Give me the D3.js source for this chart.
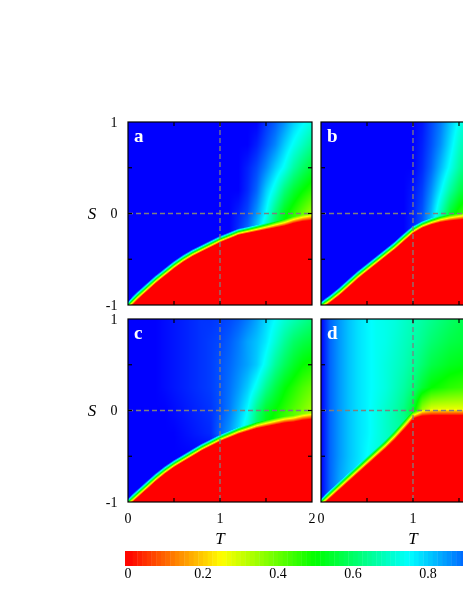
<!DOCTYPE html>
<html>
<head>
<meta charset="utf-8">
<script src="https://cdn.jsdelivr.net/npm/d3@7"></script>
<style>
  body { margin: 0; background: #fff; }
  #wrap { position: relative; width: 463px; height: 599px; overflow: hidden; }
  #wrap canvas, #wrap svg { position: absolute; left: 0; top: 0; }
</style>
</head>
<body>
<div id="wrap"></div>
<script>
// grid the values were read on
const tCols = [0, 0.1, 0.2, 0.3, 0.4, 0.5, 0.6, 0.7, 0.8, 0.9, 1, 1.1, 1.2, 1.3, 1.4, 1.5, 1.6, 1.7, 1.8, 1.9, 2];
const sRows = [1, 0.75, 0.5, 0.25, 0, -0.25, -0.5, -0.75, -1];

// S of the red / blue border at each T
const boundaryA = [-1, -0.9, -0.81, -0.72, -0.64, -0.56, -0.49, -0.43, -0.38, -0.33, -0.28, -0.24, -0.2, -0.18, -0.16, -0.14, -0.12, -0.1, -0.07, -0.05, -0.04];
const boundaryB = [-1, -0.93, -0.85, -0.76, -0.67, -0.59, -0.51, -0.43, -0.35, -0.26, -0.175, -0.12, -0.085, -0.06, -0.045, -0.035, -0.025, -0.02, -0.02, -0.02, -0.02];
const boundaryC = [-1, -0.91, -0.82, -0.73, -0.65, -0.58, -0.52, -0.46, -0.4, -0.35, -0.3, -0.26, -0.22, -0.19, -0.16, -0.14, -0.12, -0.1, -0.09, -0.07, -0.06];
const boundaryD = [-1, -0.91, -0.82, -0.73, -0.64, -0.55, -0.46, -0.37, -0.27, -0.16, -0.05, -0.025, -0.02, -0.02, -0.02, -0.02, -0.02, -0.02, -0.02, -0.02, -0.02];

// values above the border (rows follow sRows, columns follow tCols)
const fieldA = [
  [1, 1, 1, 1, 1, 1, 1, 1, 1, 1, 1, 1, 1, 1, 1, 0.95, 0.91, 0.86, 0.8, 0.76, 0.72],
  [1, 1, 1, 1, 1, 1, 1, 1, 1, 1, 1, 1, 1, 1, 0.97, 0.92, 0.87, 0.8, 0.74, 0.69, 0.64],
  [1, 1, 1, 1, 1, 1, 1, 1, 1, 1, 1, 1, 1, 0.97, 0.93, 0.87, 0.8, 0.74, 0.66, 0.6, 0.55],
  [1, 1, 1, 1, 1, 1, 1, 1, 1, 1, 1, 1, 1, 0.96, 0.9, 0.8, 0.72, 0.62, 0.55, 0.5, 0.46],
  [1, 1, 1, 1, 1, 1, 1, 1, 1, 1, 1, 1, 0.97, 0.93, 0.85, 0.75, 0.62, 0.52, 0.46, 0.4, 0.34],
  [1, 1, 1, 1, 1, 1, 1, 1, 1, 1, 1, 1, 0.95, 0.88, 0.78, 0.66, 0.55, 0.47, 0.42, 0.37, 0.32],
  [1, 1, 1, 1, 1, 1, 1, 1, 1, 1, 1, 1, 1, 1, 1, 1, 1, 1, 1, 1, 1],
  [1, 1, 1, 1, 1, 1, 1, 1, 1, 1, 1, 1, 1, 1, 1, 1, 1, 1, 1, 1, 1],
  [1, 1, 1, 1, 1, 1, 1, 1, 1, 1, 1, 1, 1, 1, 1, 1, 1, 1, 1, 1, 1]
];
const fieldB = [
  [1, 1, 1, 1, 1, 1, 1, 1, 1, 1, 1, 0.98, 0.93, 0.88, 0.81, 0.74, 0.69, 0.66, 0.63, 0.61, 0.6],
  [1, 1, 1, 1, 1, 1, 1, 1, 1, 1, 1, 0.97, 0.92, 0.86, 0.78, 0.7, 0.65, 0.61, 0.58, 0.56, 0.54],
  [1, 1, 1, 1, 1, 1, 1, 1, 1, 1, 1, 0.96, 0.9, 0.82, 0.74, 0.66, 0.6, 0.56, 0.53, 0.5, 0.48],
  [1, 1, 1, 1, 1, 1, 1, 1, 1, 1, 0.98, 0.94, 0.86, 0.76, 0.66, 0.58, 0.53, 0.49, 0.46, 0.44, 0.42],
  [1, 1, 1, 1, 1, 1, 1, 1, 1, 1, 0.97, 0.92, 0.82, 0.68, 0.55, 0.47, 0.42, 0.39, 0.36, 0.34, 0.32],
  [1, 1, 1, 1, 1, 1, 1, 1, 1, 1, 0.96, 0.9, 0.78, 0.62, 0.5, 0.42, 0.38, 0.35, 0.33, 0.31, 0.3],
  [1, 1, 1, 1, 1, 1, 1, 1, 1, 1, 1, 1, 1, 1, 1, 1, 1, 1, 1, 1, 1],
  [1, 1, 1, 1, 1, 1, 1, 1, 1, 1, 1, 1, 1, 1, 1, 1, 1, 1, 1, 1, 1],
  [1, 1, 1, 1, 1, 1, 1, 1, 1, 1, 1, 1, 1, 1, 1, 1, 1, 1, 1, 1, 1]
];
const fieldC = [
  [1, 1, 1, 1, 0.99, 0.98, 0.97, 0.96, 0.95, 0.95, 0.94, 0.93, 0.91, 0.88, 0.84, 0.79, 0.75, 0.71, 0.68, 0.65, 0.62],
  [1, 1, 1, 1, 0.99, 0.98, 0.97, 0.96, 0.95, 0.94, 0.93, 0.91, 0.88, 0.84, 0.81, 0.77, 0.71, 0.65, 0.6, 0.57, 0.55],
  [1, 1, 1, 1, 0.99, 0.98, 0.97, 0.96, 0.95, 0.94, 0.92, 0.9, 0.87, 0.84, 0.8, 0.73, 0.65, 0.59, 0.54, 0.5, 0.48],
  [1, 1, 1, 1, 0.99, 0.98, 0.97, 0.96, 0.95, 0.94, 0.92, 0.89, 0.85, 0.8, 0.73, 0.64, 0.57, 0.51, 0.47, 0.43, 0.4],
  [1, 1, 1, 1, 1, 0.99, 0.98, 0.97, 0.96, 0.95, 0.92, 0.88, 0.82, 0.75, 0.63, 0.54, 0.5, 0.46, 0.42, 0.38, 0.34],
  [1, 1, 1, 1, 1, 1, 0.99, 0.98, 0.97, 0.96, 0.9, 0.85, 0.78, 0.7, 0.58, 0.5, 0.45, 0.41, 0.37, 0.33, 0.3],
  [1, 1, 1, 1, 1, 1, 1, 1, 1, 1, 1, 1, 1, 1, 1, 1, 1, 1, 1, 1, 1],
  [1, 1, 1, 1, 1, 1, 1, 1, 1, 1, 1, 1, 1, 1, 1, 1, 1, 1, 1, 1, 1],
  [1, 1, 1, 1, 1, 1, 1, 1, 1, 1, 1, 1, 1, 1, 1, 1, 1, 1, 1, 1, 1]
];
const fieldD = [
  [1, 0.9, 0.85, 0.81, 0.78, 0.76, 0.74, 0.73, 0.72, 0.7, 0.68, 0.66, 0.64, 0.62, 0.6, 0.58, 0.57, 0.56, 0.55, 0.54, 0.53],
  [1, 0.9, 0.85, 0.81, 0.78, 0.76, 0.74, 0.73, 0.71, 0.69, 0.67, 0.64, 0.61, 0.59, 0.57, 0.56, 0.55, 0.54, 0.53, 0.52, 0.51],
  [1, 0.9, 0.85, 0.81, 0.78, 0.76, 0.74, 0.72, 0.7, 0.68, 0.65, 0.61, 0.57, 0.55, 0.53, 0.52, 0.51, 0.5, 0.49, 0.49, 0.48],
  [1, 0.9, 0.85, 0.81, 0.78, 0.76, 0.74, 0.72, 0.69, 0.66, 0.62, 0.55, 0.5, 0.48, 0.46, 0.45, 0.44, 0.43, 0.42, 0.42, 0.41],
  [1, 0.9, 0.85, 0.81, 0.78, 0.76, 0.73, 0.7, 0.67, 0.63, 0.55, 0.34, 0.27, 0.26, 0.26, 0.26, 0.26, 0.26, 0.26, 0.26, 0.26],
  [1, 0.9, 0.85, 0.81, 0.78, 0.76, 0.73, 0.7, 0.67, 0.65, 0.6, 0.26, 0.26, 0.26, 0.26, 0.26, 0.26, 0.26, 0.26, 0.26, 0.26],
  [1, 0.9, 0.85, 0.81, 0.78, 0.75, 0.72, 0.7, 0.68, 0.66, 0.64, 0.6, 0.6, 0.6, 0.6, 0.6, 0.6, 0.6, 0.6, 0.6, 0.6],
  [1, 0.9, 0.84, 0.8, 0.77, 0.74, 0.72, 0.7, 0.68, 0.66, 0.64, 0.6, 0.6, 0.6, 0.6, 0.6, 0.6, 0.6, 0.6, 0.6, 0.6],
  [1, 0.9, 0.84, 0.8, 0.77, 0.74, 0.72, 0.7, 0.68, 0.66, 0.64, 0.6, 0.6, 0.6, 0.6, 0.6, 0.6, 0.6, 0.6, 0.6, 0.6]
];

const panelNames = ['a', 'b', 'c', 'd'];
const xTicks = [0, 1, 2];
const yTicks = [-1, 0, 1];
const minorTicksT = [0.5, 1, 1.5];
const minorTicksS = [-0.5, 0, 0.5];
const colorbarTicks = [0, 0.2, 0.4, 0.6, 0.8, 1];

const W = 463, H = 599;
const serif = "'Liberation Serif', 'Times New Roman', serif";

const panels = [
  { name: panelNames[0], left: 128, top: 122, boundary: boundaryA, field: fieldA, yAxis: true,  xAxis: false },
  { name: panelNames[1], left: 321, top: 122, boundary: boundaryB, field: fieldB, yAxis: false, xAxis: false },
  { name: panelNames[2], left: 128, top: 319, boundary: boundaryC, field: fieldC, yAxis: true,  xAxis: true },
  { name: panelNames[3], left: 321, top: 319, boundary: boundaryD, field: fieldD, yAxis: false, xAxis: true }
];
const pw = 184, ph = 183;

// reversed jet: 0 red -> 1 blue
const colour = d3.scaleLinear()
  .domain([0, 0.25, 0.5, 0.75, 1])
  .range(["#ff0000", "#ffff00", "#00ff00", "#00ffff", "#0000ff"])
  .clamp(true);

const colPos = d3.scaleLinear().domain([tCols[0], tCols[tCols.length - 1]]).range([0, tCols.length - 1]);
const rowPos = d3.scaleLinear().domain([sRows[0], sRows[sRows.length - 1]]).range([0, sRows.length - 1]);

function boundaryAt(b, t) {
  const c = Math.max(0, Math.min(tCols.length - 1.0001, colPos(t)));
  const c0 = Math.floor(c), f = c - c0;
  return b[c0] * (1 - f) + b[c0 + 1] * f;
}

function fieldAt(field, t, s) {
  const c = Math.max(0, Math.min(tCols.length - 1.0001, colPos(t)));
  const r = Math.max(0, Math.min(sRows.length - 1.0001, rowPos(s)));
  const c0 = Math.floor(c), r0 = Math.floor(r), fc = c - c0, fr = r - r0;
  const up = field[r0][c0] * (1 - fc) + field[r0][c0 + 1] * fc;
  const dn = field[r0 + 1][c0] * (1 - fc) + field[r0 + 1][c0 + 1] * fc;
  return up * (1 - fr) + dn * fr;
}

const wrap = d3.select("#wrap");
const canvas = wrap.append("canvas").attr("width", W).attr("height", H);
const ctx = canvas.node().getContext("2d");
const img = ctx.createImageData(W, H);

const svg = wrap.append("svg").attr("width", W).attr("height", H);

const band = 0.07; // width of the coloured edge across the border, in S

panels.forEach(p => {
  const x = d3.scaleLinear().domain([0, 2]).range([p.left, p.left + pw]);
  const y = d3.scaleLinear().domain([-1, 1]).range([p.top + ph, p.top]);

  // heat map pixels
  for (let px = p.left; px < Math.min(W, p.left + pw); px++) {
    const t = x.invert(px + 0.5);
    const b = boundaryAt(p.boundary, t);
    const slope = (boundaryAt(p.boundary, t + 0.05) - boundaryAt(p.boundary, t - 0.05)) / 0.1;
    const w = band * Math.sqrt(1 + slope * slope);
    for (let py = p.top; py < p.top + ph; py++) {
      const s = y.invert(py + 0.5);
      const k = Math.max(0, Math.min(1, (s - b) / w + 0.5));
      const v = k * fieldAt(p.field, t, s);
      const c = d3.rgb(colour(v));
      const i = (py * W + px) * 4;
      img.data[i] = c.r; img.data[i + 1] = c.g; img.data[i + 2] = c.b; img.data[i + 3] = 255;
    }
  }

  const g = svg.append("g");

  // dashed guides at T = 1 and S = 0
  g.append("line")
    .attr("x1", x(1)).attr("x2", x(1)).attr("y1", y(1)).attr("y2", y(-1))
    .attr("stroke", "#7f7f7f").attr("stroke-width", 1.3).attr("stroke-dasharray", "5,3");
  g.append("line")
    .attr("x1", x(0)).attr("x2", x(2)).attr("y1", y(0)).attr("y2", y(0))
    .attr("stroke", "#7f7f7f").attr("stroke-width", 1.3).attr("stroke-dasharray", "5,3");

  // inward ticks on all sides
  minorTicksT.forEach(t => {
    g.append("line").attr("x1", x(t)).attr("x2", x(t)).attr("y1", y(-1)).attr("y2", y(-1) - 4)
      .attr("stroke", "#000").attr("stroke-width", 1.2);
    g.append("line").attr("x1", x(t)).attr("x2", x(t)).attr("y1", y(1)).attr("y2", y(1) + 4)
      .attr("stroke", "#000").attr("stroke-width", 1.2);
  });
  minorTicksS.forEach(s => {
    g.append("line").attr("x1", x(0)).attr("x2", x(0) + 4).attr("y1", y(s)).attr("y2", y(s))
      .attr("stroke", "#000").attr("stroke-width", 1.2);
    g.append("line").attr("x1", x(2)).attr("x2", x(2) - 4).attr("y1", y(s)).attr("y2", y(s))
      .attr("stroke", "#000").attr("stroke-width", 1.2);
  });

  // frame
  g.append("rect")
    .attr("x", x(0)).attr("y", y(1)).attr("width", x(2) - x(0)).attr("height", y(-1) - y(1))
    .attr("fill", "none").attr("stroke", "#000").attr("stroke-width", 1.2);

  // panel letter
  g.append("text")
    .attr("x", x(0) + 6).attr("y", y(1) + 20)
    .attr("fill", "#fff").attr("font-family", serif).attr("font-weight", "bold").attr("font-size", "19px")
    .text(p.name);

  if (p.yAxis) {
    yTicks.forEach(s => {
      g.append("text")
        .attr("x", x(0) - 10.5).attr("y", y(s)).attr("dy", "0.35em")
        .attr("text-anchor", "end").attr("font-family", serif).attr("font-size", "14px")
        .text(s);
    });
    g.append("text")
      .attr("x", 92).attr("y", y(0) + 5)
      .attr("text-anchor", "middle").attr("font-family", serif).attr("font-style", "italic").attr("font-size", "17px")
      .text("S");
  }
  if (p.xAxis) {
    xTicks.forEach(t => {
      g.append("text")
        .attr("x", x(t)).attr("y", y(-1) + 21)
        .attr("text-anchor", "middle").attr("font-family", serif).attr("font-size", "14px")
        .text(t);
    });
    g.append("text")
      .attr("x", x(1)).attr("y", y(-1) + 42)
      .attr("text-anchor", "middle").attr("font-family", serif).attr("font-style", "italic").attr("font-size", "17px")
      .text("T");
  }
});

ctx.putImageData(img, 0, 0);

// colour bar
const cb = d3.scaleLinear().domain([0, 1]).range([128, 503]);
const steps = d3.range(0, 1, 0.0125);
svg.append("g").selectAll("rect")
  .data(steps)
  .join("rect")
  .attr("x", d => d === 0 ? 125 : cb(d))
  .attr("y", 551)
  .attr("width", d => (d === 0 ? cb(0.0125) - 125 : cb(d + 0.0125) - cb(d)) + 0.4)
  .attr("height", 15)
  .attr("fill", d => colour(d + 0.00625));

svg.append("g").selectAll("text")
  .data(colorbarTicks)
  .join("text")
  .attr("x", d => cb(d))
  .attr("y", 578)
  .attr("text-anchor", "middle")
  .attr("font-family", serif)
  .attr("font-size", "14px")
  .text(d => d);
</script>
</body>
</html>
